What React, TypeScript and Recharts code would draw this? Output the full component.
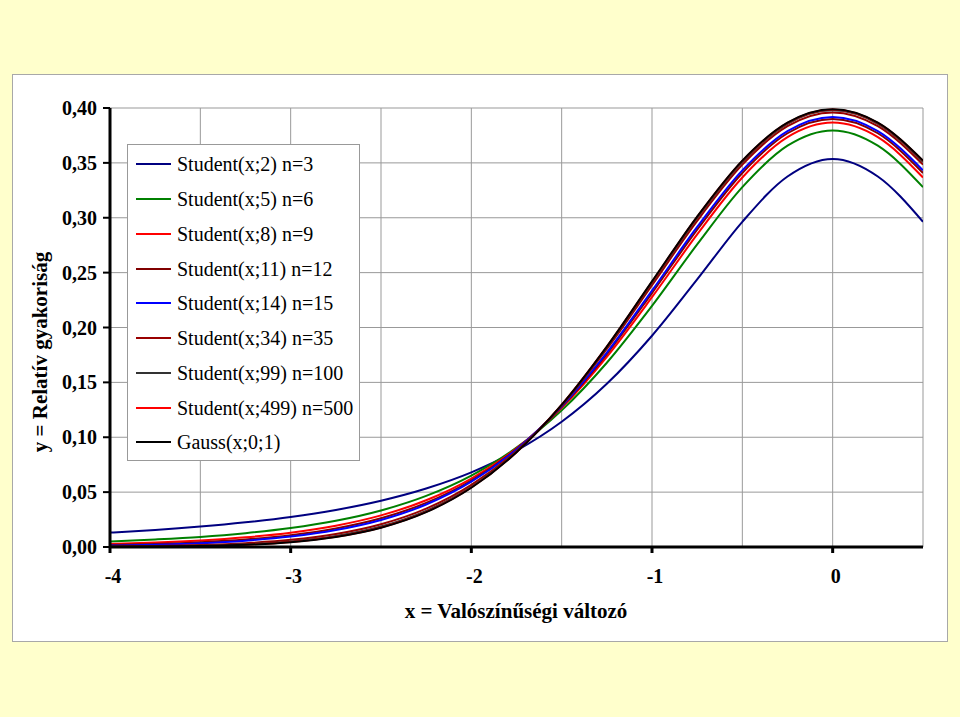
import React from 'react';
import { LineChart, Line, XAxis, YAxis, CartesianGrid, Legend } from 'recharts';

const xValues = [-4, -3.75, -3.5, -3.25, -3, -2.75, -2.5, -2.25, -2, -1.75, -1.5, -1.25, -1, -0.75, -0.5, -0.25, 0, 0.25, 0.5];

const student2 = [0.0131, 0.0155, 0.0186, 0.0225, 0.0274, 0.0338, 0.0422, 0.0533, 0.0680, 0.0878, 0.1141, 0.1487, 0.1925, 0.2438, 0.2963, 0.3376, 0.3536, 0.3376, 0.2963];
const student5 = [0.0051, 0.0069, 0.0092, 0.0126, 0.0173, 0.0239, 0.0333, 0.0466, 0.0651, 0.0905, 0.1245, 0.1679, 0.2197, 0.2757, 0.3279, 0.3657, 0.3796, 0.3657, 0.3279];
const student8 = [0.0028, 0.0040, 0.0059, 0.0088, 0.0130, 0.0194, 0.0288, 0.0426, 0.0624, 0.0899, 0.1268, 0.1733, 0.2276, 0.2848, 0.3367, 0.3734, 0.3867, 0.3734, 0.3367];
const student11 = [0.0018, 0.0028, 0.0044, 0.0069, 0.0108, 0.0169, 0.0262, 0.0402, 0.0606, 0.0893, 0.1277, 0.1758, 0.2314, 0.2891, 0.3408, 0.3770, 0.3900, 0.3770, 0.3408];
const student14 = [0.0013, 0.0021, 0.0035, 0.0058, 0.0095, 0.0154, 0.0246, 0.0387, 0.0595, 0.0889, 0.1282, 0.1772, 0.2336, 0.2916, 0.3432, 0.3790, 0.3919, 0.3790, 0.3432];
const student34 = [0.0005, 0.0009, 0.0018, 0.0035, 0.0065, 0.0118, 0.0207, 0.0349, 0.0566, 0.0875, 0.1290, 0.1804, 0.2385, 0.2972, 0.3484, 0.3835, 0.3960, 0.3835, 0.3484];
const student99 = [0.0002, 0.0005, 0.0012, 0.0025, 0.0051, 0.0100, 0.0186, 0.0329, 0.0549, 0.0868, 0.1294, 0.1819, 0.2408, 0.2998, 0.3508, 0.3856, 0.3979, 0.3856, 0.3508];
const student499 = [0.0001, 0.0004, 0.0009, 0.0021, 0.0046, 0.0093, 0.0178, 0.0320, 0.0542, 0.0864, 0.1295, 0.1825, 0.2417, 0.3009, 0.3518, 0.3865, 0.3987, 0.3865, 0.3518];
const gauss = [0.0001, 0.0004, 0.0009, 0.0020, 0.0044, 0.0091, 0.0175, 0.0317, 0.0540, 0.0863, 0.1295, 0.1826, 0.2420, 0.3011, 0.3521, 0.3867, 0.3989, 0.3867, 0.3521];

const seriesNames = [
  'Student(x;2) n=3',
  'Student(x;5) n=6',
  'Student(x;8) n=9',
  'Student(x;11) n=12',
  'Student(x;14) n=15',
  'Student(x;34) n=35',
  'Student(x;99) n=100',
  'Student(x;499) n=500',
  'Gauss(x;0;1)',
];
const seriesValues = [student2, student5, student8, student11, student14, student34, student99, student499, gauss];
const seriesColors = ['#000080', '#008000', '#FF0000', '#800000', '#0000FF', '#990000', '#333333', '#FF0000', '#000000'];

const yTicks = [0, 0.05, 0.1, 0.15, 0.2, 0.25, 0.3, 0.35, 0.4];
const xGridTicks = [-4, -3.5, -3, -2.5, -2, -1.5, -1, -0.5, 0, 0.5];

const data = xValues.map((x, i) => {
  const row: Record<string, number> = { x };
  seriesValues.forEach((arr, s) => {
    row['s' + s] = arr[i];
  });
  return row;
});

const FONT = '"Liberation Serif", "Times New Roman", serif';

const XTick = (props: any) => {
  const { x, y, payload } = props;
  const v = payload.value;
  if (!Number.isInteger(v)) return <g />;
  return (
    <g>
      <line x1={x} y1={y} x2={x} y2={y + 6} stroke="#000" strokeWidth={3} />
      <text x={x + 3} y={y + 36} textAnchor="middle" fontFamily={FONT} fontWeight="bold" fontSize={20} fill="#000">
        {String(v)}
      </text>
    </g>
  );
};

const LegendContent = () => (
  <div
    style={{
      width: 231,
      height: 313,
      background: '#fff',
      border: '1px solid #999',
      fontFamily: FONT,
      fontSize: 20,
      color: '#000',
      boxSizing: 'content-box',
      paddingTop: 2,
    }}
  >
    {seriesNames.map((name, i) => (
      <div key={name} style={{ height: 34.75, display: 'flex', alignItems: 'center', whiteSpace: 'nowrap' }}>
        <svg width={49} height={10} style={{ display: 'block' }}>
          <line x1={8} y1={5} x2={43} y2={5} stroke={seriesColors[i]} strokeWidth={2} />
        </svg>
        <span style={{ lineHeight: '20px' }}>{name}</span>
      </div>
    ))}
  </div>
);

export default function App() {
  return (
    <div style={{ position: 'absolute', left: 0, top: 0, width: 960, height: 717, background: '#FFFFCC', overflow: 'hidden' }}>
      <div
        style={{
          position: 'absolute',
          left: 12,
          top: 74,
          width: 934,
          height: 566,
          background: '#fff',
          border: '1px solid #A8A8A8',
        }}
      />
      <div style={{ position: 'absolute', left: 0, top: 0 }}>
        <LineChart
          width={960}
          height={717}
          data={data}
          margin={{ top: 108, right: 37, bottom: 130, left: 50 }}
        >
          <CartesianGrid stroke="#999" strokeWidth={1} />
          <XAxis
            dataKey="x"
            type="number"
            domain={[-4, 0.5]}
            ticks={xGridTicks}
            interval={0}
            height={40}
            axisLine={{ stroke: '#000', strokeWidth: 3 }}
            tickLine={false}
            tickSize={0}
            tickMargin={0}
            tick={<XTick />}
            allowDataOverflow
          />
          <YAxis
            type="number"
            domain={[0, 0.4]}
            ticks={yTicks}
            interval={0}
            width={60}
            axisLine={{ stroke: '#000', strokeWidth: 3 }}
            tickLine={{ stroke: '#000', strokeWidth: 2 }}
            tickSize={7}
            tickMargin={6}
            tickFormatter={(v: number) => v.toFixed(2).replace('.', ',')}
            tick={{ fontFamily: FONT, fontWeight: 'bold', fontSize: 20, fill: '#000' }}
            allowDataOverflow
          />
          <Legend
            layout="vertical"
            align="center"
            verticalAlign="middle"
            wrapperStyle={{ left: 127, top: 144, width: 233, height: 316 }}
            content={<LegendContent />}
          />
          {seriesNames.map((name, i) => (
            <Line
              key={name}
              name={name}
              dataKey={'s' + i}
              type="monotone"
              stroke={seriesColors[i]}
              strokeWidth={2}
              dot={false}
              activeDot={false}
              isAnimationActive={false}
            />
          ))}
        </LineChart>
      </div>
      <div
        style={{
          position: 'absolute',
          left: 40,
          top: 352,
          transform: 'translate(-50%, -50%) rotate(-90deg)',
          fontFamily: FONT,
          fontWeight: 'bold',
          fontSize: 21,
          whiteSpace: 'nowrap',
          color: '#000',
        }}
      >
        y = Relatív gyakoriság
      </div>
      <div
        style={{
          position: 'absolute',
          left: 516,
          top: 611,
          transform: 'translate(-50%, -50%)',
          fontFamily: FONT,
          fontWeight: 'bold',
          fontSize: 21,
          whiteSpace: 'nowrap',
          color: '#000',
        }}
      >
        x = Valószínűségi változó
      </div>
    </div>
  );
}
